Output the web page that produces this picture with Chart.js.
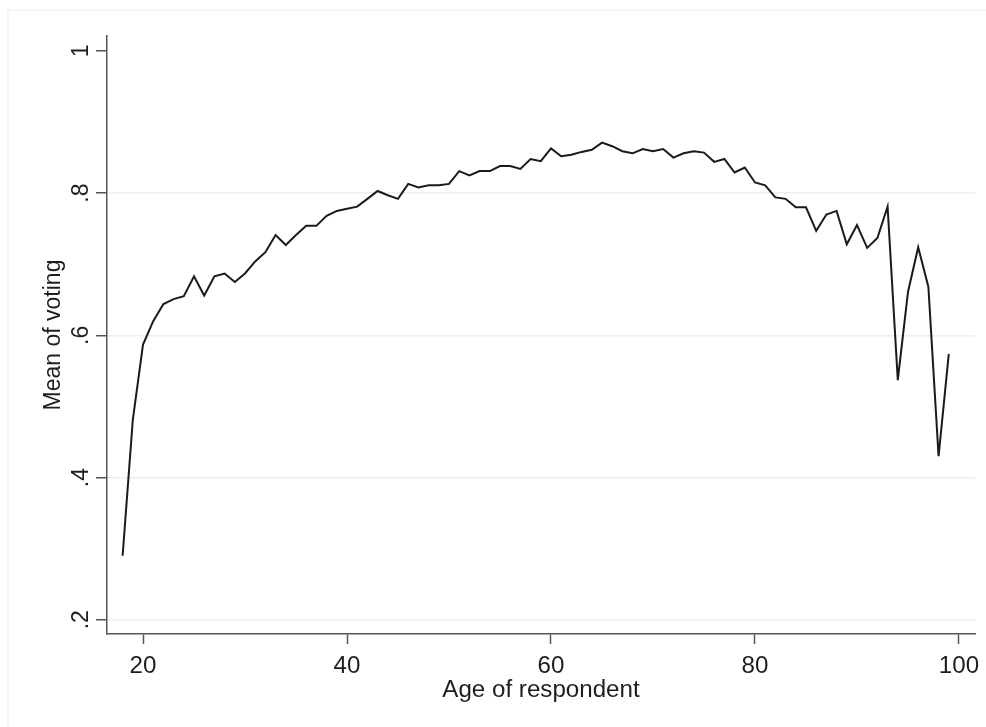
<!DOCTYPE html>
<html lang="en">
<head>
<meta charset="utf-8">
<title>Mean of voting by age</title>
<script src="https://cdn.jsdelivr.net/npm/chart.js@4.4.1/dist/chart.umd.min.js"></script>
<style>
    html, body { margin: 0; padding: 0; background: #ffffff; }
    #wrap { width: 986px; height: 727px; position: relative; }
</style>
</head>
<body>
<div id="wrap"><canvas id="chart" width="986" height="727"></canvas></div>
<script>
// Âge du répondant (abscisses)
const ages = [
    18, 19, 20, 21, 22, 23, 24, 25, 26, 27, 28, 29, 30, 31, 32, 33, 34, 35, 36, 37,
    38, 39, 40, 41, 42, 43, 44, 45, 46, 47, 48, 49, 50, 51, 52, 53, 54, 55, 56, 57,
    58, 59, 60, 61, 62, 63, 64, 65, 66, 67, 68, 69, 70, 71, 72, 73, 74, 75, 76, 77,
    78, 79, 80, 81, 82, 83, 84, 85, 86, 87, 88, 89, 90, 91, 92, 93, 94, 95, 96, 97,
    98, 99
];

// Moyenne de participation au vote, une valeur par âge
const meanVoting = [
    0.290, 0.481, 0.587, 0.620, 0.644, 0.651, 0.655, 0.683, 0.656, 0.683,
    0.687, 0.675, 0.687, 0.704, 0.717, 0.741, 0.727, 0.741, 0.754, 0.754,
    0.768, 0.775, 0.778, 0.781, 0.792, 0.803, 0.797, 0.792, 0.813, 0.808,
    0.811, 0.811, 0.813, 0.831, 0.825, 0.831, 0.831, 0.838, 0.838, 0.834,
    0.848, 0.845, 0.863, 0.852, 0.854, 0.858, 0.861, 0.871, 0.866, 0.859,
    0.856, 0.862, 0.859, 0.862, 0.850, 0.856, 0.859, 0.857, 0.844, 0.848,
    0.829, 0.836, 0.815, 0.811, 0.794, 0.792, 0.780, 0.780, 0.747, 0.770,
    0.775, 0.728, 0.755, 0.723, 0.737, 0.781, 0.537, 0.661, 0.724, 0.668,
    0.430, 0.574
];

// Graduations des axes
const xTicks = [20, 40, 60, 80, 100];
const yTicks = [0.2, 0.4, 0.6, 0.8, 1];
const yTickLabels = ['.2', '.4', '.6', '.8', '1'];

const xTitle = 'Age of respondent';
const yTitle = 'Mean of voting';

(function () {
    'use strict';

    const AXIS = '#555555';
    const GRID = '#e8f0f1';
    const TEXT = '#1e1e1e';
    const FONT = '23px "Liberation Sans", Arial, sans-serif';

    // Textes des axes dessinés à la main (étiquettes verticales façon Stata)
    const axisText = {
        id: 'axisText',
        afterDraw(chart) {
            const ctx = chart.ctx;
            const xs = chart.scales.x;
            const ys = chart.scales.y;
            const area = chart.chartArea;
            ctx.save();
            ctx.fillStyle = TEXT;
            ctx.font = FONT;

            // cadre clair autour du graphique
            ctx.strokeStyle = '#edf3f4';
            ctx.lineWidth = 1.5;
            ctx.beginPath();
            ctx.moveTo(8, chart.height);
            ctx.lineTo(8, 10);
            ctx.lineTo(chart.width, 10);
            ctx.stroke();

            ctx.textAlign = 'center';
            ctx.textBaseline = 'alphabetic';
            xTicks.forEach(function (v) {
                ctx.save();
                ctx.translate(xs.getPixelForValue(v), 673);
                ctx.scale(1.05, 1);
                ctx.fillText(String(v), 0, 0);
                ctx.restore();
            });

            ctx.save();
            ctx.translate((area.left + area.right) / 2, 697);
            ctx.scale(1.05, 1);
            ctx.fillText(xTitle, 0, 0);
            ctx.restore();

            yTicks.forEach(function (v, i) {
                ctx.save();
                ctx.translate(88, ys.getPixelForValue(v));
                ctx.rotate(-Math.PI / 2);
                ctx.fillText(yTickLabels[i], 0, 0);
                ctx.restore();
            });

            ctx.save();
            ctx.translate(60, (area.top + area.bottom) / 2);
            ctx.rotate(-Math.PI / 2);
            ctx.fillText(yTitle, 0, 0);
            ctx.restore();

            ctx.restore();
        }
    };

    const points = ages.map(function (a, i) { return { x: a, y: meanVoting[i] }; });

    new Chart(document.getElementById('chart'), {
        type: 'line',
        data: {
            datasets: [{
                data: points,
                borderColor: '#1a1a1a',
                borderWidth: 2,
                pointRadius: 0,
                tension: 0,
                fill: false
            }]
        },
        options: {
            responsive: false,
            animation: false,
            devicePixelRatio: 1,
            layout: { padding: { left: 0, top: 36, right: 11, bottom: 0 } },
            plugins: {
                legend: { display: false },
                tooltip: { enabled: false }
            },
            scales: {
                x: {
                    type: 'linear',
                    min: 16.47,
                    max: 101.57,
                    afterBuildTicks: function (s) { s.ticks = xTicks.map(function (v) { return { value: v }; }); },
                    afterFit: function (s) { s.height = 93; },
                    ticks: { display: false },
                    grid: {
                        drawOnChartArea: false,
                        drawTicks: true,
                        tickLength: 10,
                        tickColor: AXIS,
                        tickWidth: 1.5
                    },
                    border: { display: true, color: AXIS, width: 1.5 }
                },
                y: {
                    type: 'linear',
                    min: 0.18,
                    max: 1.021,
                    afterBuildTicks: function (s) { s.ticks = yTicks.map(function (v) { return { value: v }; }); },
                    afterFit: function (s) { s.width = 107; },
                    ticks: { display: false },
                    grid: {
                        color: function (c) { return c.tick && c.tick.value === 1 ? 'rgba(0,0,0,0)' : GRID; },
                        lineWidth: 1.5,
                        drawTicks: true,
                        tickLength: 11,
                        tickColor: AXIS,
                        tickWidth: 1.5
                    },
                    border: { display: true, color: AXIS, width: 1.5 }
                }
            }
        },
        plugins: [axisText]
    });
})();
</script>
</body>
</html>
